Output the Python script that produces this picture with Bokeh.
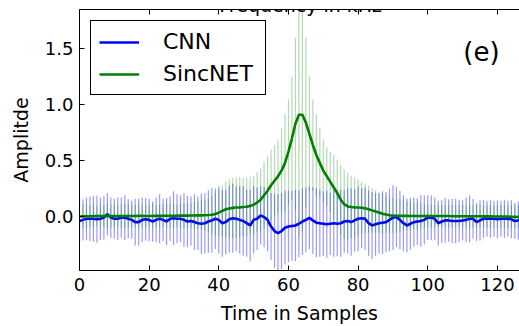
from bokeh.plotting import figure
from bokeh.models import (Range1d, LinearAxis, FixedTicker, NumeralTickFormatter,
                          Label, Legend, LegendItem, ColumnDataSource)
from bokeh.embed import file_html
from bokeh.resources import INLINE

samples = list(range(128))

cnn_mean = [
    -0.040, -0.030, -0.020, -0.020, -0.020, -0.025, -0.020, -0.010, 0.020, -0.010,
    -0.020, -0.020, -0.010, -0.010, -0.020, -0.030, -0.050, -0.050, -0.030, -0.025,
    -0.030, -0.045, -0.030, -0.020, -0.030, -0.045, -0.020, -0.015, -0.020, -0.020,
    -0.030, -0.045, -0.040, -0.050, -0.060, -0.065, -0.060, -0.045, -0.035, -0.020,
    -0.030, -0.060, -0.050, -0.025, -0.015, -0.020, -0.030, -0.040, -0.060, -0.080,
    -0.030, -0.020, 0.010, -0.005, -0.030, -0.090, -0.130, -0.150, -0.130, -0.100,
    -0.090, -0.085, -0.080, -0.065, -0.045, -0.030, -0.012, -0.035, -0.055, -0.060,
    -0.065, -0.070, -0.065, -0.060, -0.065, -0.060, -0.045, -0.040, -0.050, -0.035,
    -0.020, -0.015, -0.020, -0.060, -0.080, -0.070, -0.060, -0.055, -0.050, -0.030,
    -0.010, -0.005, -0.030, -0.060, -0.080, -0.065, -0.050, -0.045, -0.040, -0.030,
    -0.010, -0.010, -0.020, -0.060, -0.045, -0.035, -0.035, -0.040, -0.040, -0.040,
    -0.035, -0.030, -0.020, -0.020, -0.050, -0.035, -0.020, -0.020, -0.020, -0.020,
    -0.025, -0.020, -0.020, -0.020, -0.025, -0.040, -0.035, -0.030,
]

cnn_err = [
    0.19, 0.185, 0.19, 0.20, 0.205, 0.21, 0.19, 0.195, 0.19, 0.18,
    0.18, 0.19, 0.18, 0.20, 0.175, 0.17, 0.21, 0.21, 0.20, 0.19,
    0.19, 0.18, 0.20, 0.22, 0.19, 0.21, 0.20, 0.24, 0.22, 0.21,
    0.24, 0.23, 0.22, 0.25, 0.24, 0.27, 0.27, 0.28, 0.29, 0.27,
    0.30, 0.30, 0.29, 0.30, 0.31, 0.29, 0.30, 0.31, 0.30, 0.32,
    0.30, 0.28, 0.26, 0.27, 0.28, 0.30, 0.33, 0.35, 0.34, 0.33,
    0.32, 0.31, 0.32, 0.30, 0.30, 0.29, 0.28, 0.30, 0.31, 0.30,
    0.29, 0.30, 0.28, 0.30, 0.29, 0.30, 0.28, 0.29, 0.30, 0.28,
    0.29, 0.27, 0.28, 0.29, 0.30, 0.28, 0.27, 0.28, 0.27, 0.28,
    0.29, 0.27, 0.26, 0.25, 0.24, 0.23, 0.22, 0.21, 0.23, 0.22,
    0.20, 0.20, 0.19, 0.20, 0.19, 0.20, 0.19, 0.20, 0.20, 0.19,
    0.18, 0.20, 0.21, 0.18, 0.17, 0.18, 0.17, 0.16, 0.17, 0.16,
    0.17, 0.16, 0.17, 0.16, 0.17, 0.16, 0.17, 0.16,
]

sinc_mean = [
    0.000, 0.002, 0.003, 0.003, 0.004, 0.004, 0.005, 0.005, 0.006, 0.005,
    0.005, 0.004, 0.004, 0.004, 0.005, 0.005, 0.005, 0.006, 0.006, 0.005,
    0.005, 0.005, 0.006, 0.006, 0.006, 0.007, 0.007, 0.007, 0.007, 0.008,
    0.008, 0.008, 0.009, 0.009, 0.010, 0.010, 0.011, 0.013, 0.016, 0.022,
    0.035, 0.050, 0.065, 0.072, 0.077, 0.080, 0.082, 0.085, 0.088, 0.095,
    0.105, 0.125, 0.150, 0.190, 0.230, 0.280, 0.320, 0.360, 0.410, 0.480,
    0.580, 0.700, 0.830, 0.910, 0.910, 0.840, 0.740, 0.640, 0.550, 0.480,
    0.410, 0.360, 0.310, 0.260, 0.210, 0.150, 0.110, 0.090, 0.085, 0.082,
    0.080, 0.078, 0.073, 0.065, 0.055, 0.045, 0.035, 0.025, 0.018, 0.012,
    0.008, 0.007, 0.006, 0.006, 0.006, 0.005, 0.005, 0.005, 0.005, 0.005,
    0.005, 0.005, 0.004, 0.004, 0.004, 0.004, 0.004, 0.003, 0.003, 0.003,
    0.003, 0.003, 0.002, 0.002, 0.002, 0.002, 0.001, 0.001, 0.001, 0.000,
    0.000, 0.000, 0.000, -0.001, -0.002, -0.003, -0.004, -0.005,
]

sinc_err = [
    0.10, 0.10, 0.11, 0.10, 0.10, 0.09, 0.10, 0.10, 0.11, 0.10,
    0.10, 0.10, 0.10, 0.11, 0.10, 0.10, 0.10, 0.11, 0.10, 0.10,
    0.10, 0.11, 0.10, 0.10, 0.10, 0.11, 0.10, 0.11, 0.10, 0.11,
    0.11, 0.11, 0.11, 0.12, 0.12, 0.13, 0.14, 0.15, 0.17, 0.19,
    0.21, 0.23, 0.25, 0.26, 0.27, 0.27, 0.27, 0.26, 0.26, 0.26,
    0.26, 0.27, 0.28, 0.30, 0.31, 0.32, 0.32, 0.33, 0.38, 0.44,
    0.47, 0.55, 0.77, 1.10, 1.05, 0.76, 0.51, 0.41, 0.37, 0.31,
    0.28, 0.26, 0.27, 0.29, 0.30, 0.31, 0.31, 0.30, 0.28, 0.27,
    0.25, 0.23, 0.22, 0.21, 0.20, 0.19, 0.18, 0.18, 0.17, 0.16,
    0.16, 0.15, 0.15, 0.14, 0.13, 0.13, 0.12, 0.12, 0.11, 0.11,
    0.10, 0.10, 0.10, 0.10, 0.10, 0.10, 0.10, 0.10, 0.10, 0.10,
    0.10, 0.10, 0.10, 0.10, 0.10, 0.10, 0.10, 0.10, 0.10, 0.10,
    0.10, 0.10, 0.10, 0.10, 0.10, 0.10, 0.10, 0.10,
]

x_ticks = [0, 20, 40, 60, 80, 100, 120]
y_ticks = [0.0, 0.5, 1.0, 1.5]

FONT = "DejaVu Sans"

cnn_src = ColumnDataSource(dict(
    x=samples, y=cnn_mean,
    lo=[m - e for m, e in zip(cnn_mean, cnn_err)],
    hi=[m + e for m, e in zip(cnn_mean, cnn_err)]))
sinc_src = ColumnDataSource(dict(
    x=samples, y=sinc_mean,
    lo=[m - e for m, e in zip(sinc_mean, sinc_err)],
    hi=[m + e for m, e in zip(sinc_mean, sinc_err)]))

p = figure(width=519, height=326, output_backend="svg", toolbar_location=None,
           x_range=Range1d(0, 126.33), y_range=Range1d(-0.483, 1.852),
           x_axis_location=None, y_axis_location=None,
           min_border_left=79, min_border_right=0, min_border_top=9,
           min_border_bottom=52)
p.outline_line_color = None
p.xgrid.visible = False
p.ygrid.visible = False
p.background_fill_color = "white"
p.border_fill_color = "white"


def style_axis(ax, labels=True):
    ax.major_tick_in = 5
    ax.major_tick_out = 0
    ax.minor_tick_in = 0
    ax.minor_tick_out = 0
    ax.axis_line_color = "black"
    ax.axis_line_width = 1
    ax.major_tick_line_color = "black"
    ax.major_label_text_font = FONT
    ax.major_label_text_color = "black"
    ax.axis_label_text_font = FONT
    ax.axis_label_text_font_style = "normal"
    ax.axis_label_text_color = "black"
    ax.axis_label_text_font_size = "19px"
    ax.major_label_text_font_size = "18px"
    if not labels:
        ax.major_label_overrides = {t: "" for t in x_ticks}
        ax.major_label_text_font_size = "1px"
        ax.major_label_standoff = 0


xaxis = LinearAxis(ticker=FixedTicker(ticks=x_ticks), axis_label="Time in Samples")
style_axis(xaxis)
xaxis.major_label_standoff = 7
xaxis.axis_label_standoff = 8
p.add_layout(xaxis, "below")

yaxis = LinearAxis(ticker=FixedTicker(ticks=y_ticks), axis_label="Amplitde",
                   formatter=NumeralTickFormatter(format="0.0"))
style_axis(yaxis)
yaxis.major_label_standoff = 6
yaxis.axis_label_standoff = 10
p.add_layout(yaxis, "left")

top_axis = LinearAxis(ticker=FixedTicker(ticks=x_ticks))
style_axis(top_axis, labels=False)
p.add_layout(top_axis, "above")

# error bars and means
p.segment(x0="x", y0="lo", x1="x", y1="hi", source=cnn_src,
          line_color="#0000ff", line_alpha=0.4, line_width=1.2)
cnn_line = p.line("x", "y", source=cnn_src, line_color="#0000ff", line_width=2.6)
p.segment(x0="x", y0="lo", x1="x", y1="hi", source=sinc_src,
          line_color="#008000", line_alpha=0.3, line_width=1.2)
sinc_line = p.line("x", "y", source=sinc_src, line_color="#008000", line_width=2.6)

legend = Legend(items=[LegendItem(label="CNN", renderers=[cnn_line]),
                       LegendItem(label="SincNET", renderers=[sinc_line])],
                location="top_left")
legend.margin = 11
legend.padding = 8
legend.spacing = 7
legend.label_height = 22
legend.label_width = 94
legend.glyph_height = 22
legend.glyph_width = 40
legend.label_standoff = 24
legend.label_text_font = FONT
legend.label_text_font_size = "22px"
legend.label_text_color = "black"
legend.border_line_color = "black"
legend.border_line_width = 1
legend.border_line_alpha = 1
legend.background_fill_color = "white"
legend.background_fill_alpha = 1
p.add_layout(legend)

p.add_layout(Label(x=115.4, y=1.47, text="(e)", text_font=FONT,
                   text_font_size="26px", text_align="center",
                   text_baseline="middle", text_color="black"))
p.add_layout(Label(x=63.5, y=1.891, text="Frequency in kHz", text_font=FONT,
                   text_font_size="19px", text_align="center",
                   text_baseline="alphabetic", text_color="black"))

open("out.html", "w").write(file_html(p, INLINE))
